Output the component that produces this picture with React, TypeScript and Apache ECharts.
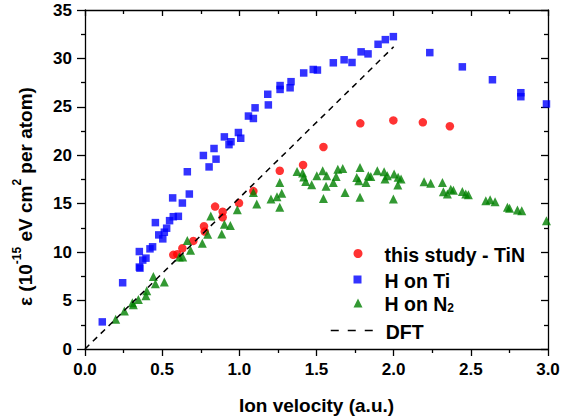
import React, { useEffect, useRef } from "react";
import * as echarts from "echarts";

const tinX = [0.572, 0.598, 0.631, 0.702, 0.771, 0.776, 0.843, 0.892, 0.892, 0.998, 1.091, 1.262, 1.413, 1.545, 1.784, 1.998, 2.189, 2.364];
const tinY = [9.72, 9.79, 10.4, 11.16, 12.67, 12.12, 14.7, 14.18, 13.6, 15.07, 16.3, 18.4, 19.0, 20.86, 23.3, 23.6, 23.4, 23.0];

const tiX = [0.112, 0.244, 0.352, 0.356, 0.374, 0.395, 0.352, 0.421, 0.438, 0.504, 0.478, 0.514, 0.529, 0.456, 0.548, 0.572, 0.605, 0.631, 0.568, 0.676, 0.663, 0.804, 0.849, 0.767, 0.836, 0.933, 0.946, 0.903, 1.009, 0.994, 1.091, 1.059, 1.102, 1.188, 1.184, 1.264, 1.264, 1.329, 1.335, 1.417, 1.479, 1.506, 1.609, 1.679, 1.73, 1.789, 1.834, 1.899, 1.946, 1.998, 2.234, 2.445, 2.64, 2.824, 2.824, 2.99];
const tiY = [2.8, 6.84, 8.46, 8.35, 9.18, 9.38, 10.06, 10.34, 10.55, 11.37, 11.78, 12.06, 12.47, 13.05, 13.25, 13.66, 13.7, 15.07, 15.6, 16.0, 18.3, 18.8, 19.6, 19.98, 20.7, 21.1, 21.4, 21.9, 21.76, 22.35, 23.8, 24.05, 24.9, 25.2, 26.3, 26.8, 27.2, 26.97, 27.6, 28.5, 28.86, 28.8, 29.55, 29.86, 29.58, 30.68, 30.47, 31.46, 31.94, 32.25, 30.6, 29.13, 27.8, 26.46, 26.05, 25.3];

const n2X = [0.199, 0.255, 0.307, 0.313, 0.346, 0.395, 0.4, 0.443, 0.456, 0.514, 0.611, 0.633, 0.663, 0.684, 0.76, 0.795, 0.815, 0.886, 0.903, 0.942, 0.987, 1.091, 1.113, 1.205, 1.244, 1.262, 1.262, 1.275, 1.374, 1.41, 1.417, 1.43, 1.469, 1.502, 1.54, 1.545, 1.566, 1.562, 1.609, 1.627, 1.638, 1.67, 1.685, 1.761, 1.782, 1.782, 1.774, 1.821, 1.836, 1.852, 1.894, 1.938, 1.944, 1.959, 2.003, 1.998, 2.029, 2.048, 2.027, 2.197, 2.24, 2.316, 2.322, 2.348, 2.37, 2.387, 2.445, 2.467, 2.484, 2.597, 2.625, 2.657, 2.737, 2.751, 2.802, 2.83, 2.99];
const n2Y = [3.07, 3.93, 4.78, 4.58, 5.12, 5.5, 6.02, 7.49, 6.74, 6.91, 9.49, 9.49, 11.2, 10.2, 10.93, 11.85, 13.73, 11.88, 12.88, 12.74, 14.38, 16.17, 14.97, 15.48, 15.72, 17.2, 14.63, 16.07, 18.33, 18.16, 17.75, 17.3, 16.95, 17.9, 18.4, 15.55, 17.9, 16.8, 17.2, 17.8, 18.57, 18.64, 16.17, 17.7, 18.74, 15.66, 17.37, 17.2, 17.9, 17.82, 18.4, 18.3, 17.54, 17.88, 18.06, 15.48, 17.72, 17.54, 16.92, 17.27, 17.1, 17.2, 16.24, 16.0, 16.5, 16.4, 16.27, 16.0, 15.93, 15.31, 15.41, 15.2, 14.63, 14.53, 14.35, 14.28, 13.25];

const dftX = [0, 2.0];
const dftY = [0, 31.2];

const xTicks = { min: 0, max: 3, interval: 0.5 };
const yTicks = { min: 0, max: 35, interval: 5 };

const FONT = "'Liberation Sans', Arial, sans-serif";

const zip = (xs: number[], ys: number[]) => xs.map((x, i) => [x, ys[i]]);

export default function App() {
  const ref = useRef<HTMLDivElement>(null);
  useEffect(() => {
    if (!ref.current) return;
    const chart = echarts.init(ref.current, null, { renderer: "svg" });
    const axisLine = { show: true, onZero: false, lineStyle: { color: "#000", width: 1.3 } };
    const baseX = {
      type: "value" as const,
      min: xTicks.min,
      max: xTicks.max,
      interval: xTicks.interval,
      splitLine: { show: false },
      axisLine,
    };
    const baseY = {
      type: "value" as const,
      min: yTicks.min,
      max: yTicks.max,
      interval: yTicks.interval,
      splitLine: { show: false },
      axisLine,
    };
    const legendText = {
      fontFamily: FONT,
      fontWeight: "bold" as const,
      fontSize: 19.5,
      color: "#000",
      rich: {
        n: { fontFamily: FONT, fontWeight: "bold", fontSize: 19.5, lineHeight: 22, verticalAlign: "bottom" },
        sub: { fontFamily: FONT, fontWeight: "bold", fontSize: 12, lineHeight: 22, verticalAlign: "bottom", padding: [8, 0, 0, 0] },
      },
    };
    chart.setOption({
      animation: false,
      grid: { left: 85, right: 25, top: 10, bottom: 70, containLabel: false },
      xAxis: [
        {
          ...baseX,
          position: "bottom",
          axisTick: { show: true, inside: false, length: 7, lineStyle: { color: "#000", width: 1.3 } },
          minorTick: { show: true, splitNumber: 2, length: 4, lineStyle: { color: "#000", width: 1.3 } },
          axisLabel: {
            fontFamily: FONT, fontWeight: "bold", fontSize: 17, color: "#000", margin: 12,
            formatter: (v: number) => v.toFixed(1),
          },
          name: "Ion velocity (a.u.)",
          nameLocation: "middle",
          nameGap: 47,
          nameTextStyle: { fontFamily: FONT, fontWeight: "bold", fontSize: 19, color: "#000" },
        },
        {
          ...baseX,
          position: "top",
          axisTick: { show: true, inside: true, length: 6, lineStyle: { color: "#000", width: 1.3 } },
          minorTick: { show: true, splitNumber: 2, length: 4, lineStyle: { color: "#000", width: 1.3 } },
          axisLabel: { show: false },
        },
      ],
      yAxis: [
        {
          ...baseY,
          position: "left",
          axisTick: { show: true, inside: false, length: 8, lineStyle: { color: "#000", width: 1.3 } },
          minorTick: { show: true, splitNumber: 2, length: 4, lineStyle: { color: "#000", width: 1.3 } },
          axisLabel: { fontFamily: FONT, fontWeight: "bold", fontSize: 17, color: "#000", margin: 13 },
          name: "{n|ε (10}{sup|-15}{n| eV cm}{sup|2}{n| per atom)}",
          nameLocation: "middle",
          nameGap: 50,
          nameTextStyle: {
            fontFamily: FONT, fontWeight: "bold", fontSize: 19, color: "#000",
            padding: [0, 34, 0, 0],
            rich: {
              n: { fontFamily: FONT, fontWeight: "bold", fontSize: 19, color: "#000", lineHeight: 24, verticalAlign: "bottom" },
              sup: { fontFamily: FONT, fontWeight: "bold", fontSize: 12, color: "#000", lineHeight: 24, verticalAlign: "top" },
            },
          },
        },
        {
          ...baseY,
          position: "right",
          axisTick: { show: true, inside: true, length: 7, lineStyle: { color: "#000", width: 1.3 } },
          minorTick: { show: true, splitNumber: 2, length: 4, lineStyle: { color: "#000", width: 1.3 } },
          axisLabel: { show: false },
        },
      ],
      legend: [
        {
          data: ["this study - TiN"], left: 353.5, top: 244.5, padding: 0, itemWidth: 9, itemHeight: 9,
          textStyle: { ...legendText, padding: [0, 0, 0, 17] }, formatter: (n: string) => `{n|${n}}`,
        },
        {
          data: ["H on Ti"], left: 353.5, top: 270.5, padding: 0, itemWidth: 8, itemHeight: 8,
          textStyle: { ...legendText, padding: [0, 0, 0, 18] }, formatter: (n: string) => `{n|${n}}`,
        },
        {
          data: ["H on N2"], left: 353.5, top: 294, padding: 0, itemWidth: 9, itemHeight: 9,
          textStyle: { ...legendText, padding: [0, 0, 0, 17] }, formatter: () => `{n|H on N}{sub|2}`,
        },
        {
          data: ["DFT"], left: 330, top: 321.5, padding: 0, itemWidth: 42, itemHeight: 9,
          lineStyle: { type: [8, 9], width: 1.5, color: "#000" },
          itemStyle: { opacity: 0 },
          textStyle: { ...legendText, padding: [0, 0, 0, 8] }, formatter: (n: string) => `{n|${n}}`,
        },
      ],
      series: [
        {
          name: "DFT", type: "line", data: zip(dftX, dftY), symbol: "none", xAxisIndex: 0, yAxisIndex: 0,
          lineStyle: { color: "#000", width: 1.5, type: [6, 5] }, itemStyle: { color: "#000" },
        },
        {
          name: "this study - TiN", type: "scatter", data: zip(tinX, tinY), symbol: "circle", symbolSize: 8.5,
          itemStyle: { color: "#ff0000" }, xAxisIndex: 0, yAxisIndex: 0,
        },
        {
          name: "H on Ti", type: "scatter", data: zip(tiX, tiY), symbol: "rect", symbolSize: 7.5,
          itemStyle: { color: "#0000ff" }, xAxisIndex: 0, yAxisIndex: 0,
        },
        {
          name: "H on N2", type: "scatter", data: zip(n2X, n2Y), symbol: "triangle", symbolSize: 9,
          itemStyle: { color: "#008000" }, xAxisIndex: 0, yAxisIndex: 0,
        },
      ],
    });
    return () => chart.dispose();
  }, []);
  return <div ref={ref} style={{ width: 573, height: 420, position: "absolute", left: 0, top: 0 }} />;
}
